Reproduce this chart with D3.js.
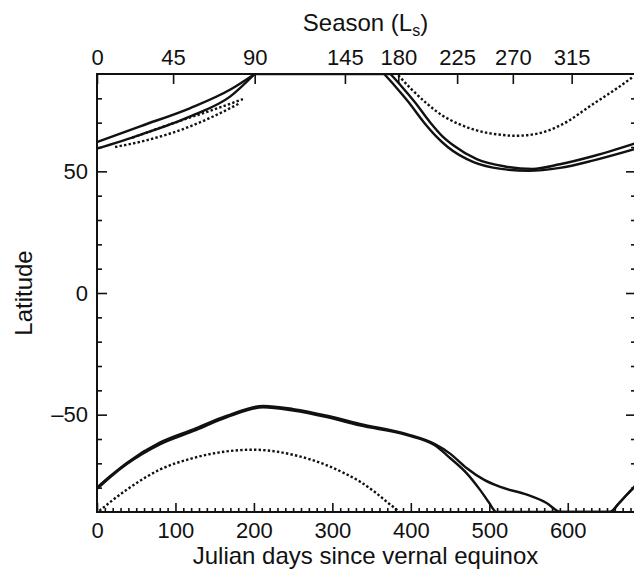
<!DOCTYPE html>
<html>
<head>
<meta charset="utf-8">
<script src="https://cdn.jsdelivr.net/npm/d3@7"></script>
<style>
  body { margin: 0; background: #fff; }
  text { font-family: "Liberation Sans", Arial, sans-serif; fill: #111; }
</style>
</head>
<body>
<script>
// Axis labels and ticks
const lsLabels = [0, 45, 90, 145, 180, 225, 270, 315];
const lsDays = [0, 97, 201, 316, 384, 459, 530, 605];
const dayTicks = [0, 100, 200, 300, 400, 500, 600];
const latTicks = [-50, 0, 50];

// Cap edge curves: [julian day, latitude]
// north solid lines: spring retreat, summer at the pole, autumn advance
const north1Rise = [[0, 62], [55, 68.5], [119, 76], [170, 83.6], [201, 90]];
const north2Rise = [[0, 59.3], [55, 65], [119, 72.6], [170, 80.8], [201, 90]];
const northPole = [[201, 90], [374, 90]];
const north1Fall = [[374, 90], [388, 85], [405, 78.5], [425, 70], [440, 64.5], [455, 60.5], [484, 55],
  [520, 52], [555, 51], [590, 52.9], [633, 56.3], [687, 61.6]];
const north2Fall = [[366, 90], [380, 85], [397, 78.5], [417, 70], [432, 64.5], [447, 60], [480, 53.8],
  [515, 51], [550, 50.2], [590, 51.4], [633, 54.5], [687, 59.3]];
const northDot1 = [[23, 60], [60, 62.5], [119, 68.5], [170, 76], [182, 78]];
const northDot2 = [[45, 63.8], [110, 71.2], [150, 75.5], [186, 79.7]];
const northDot3 = [[384, 89.5], [400, 84], [420, 78], [440, 73], [463, 69.2], [490, 66.3], [515, 65], [533, 64.6],
  [560, 65.4], [590, 68.8], [633, 77.8], [660, 83.5], [684, 89]];

const south1 = [[0, -80.5], [17, -75.6], [38, -70.3], [80, -62.2], [123, -56.7], [165, -51.1], [212, -47],
  [250, -48.3], [293, -51], [335, -54.4], [395, -58.4], [430, -62.5], [450, -67.8], [471, -74], [488, -80.8],
  [500, -86.3], [509, -90], [654, -90], [665, -86.5], [675, -83], [687, -79]];
const south2 = [[0, -80], [17, -75.2], [38, -69.8], [80, -61.5], [123, -56], [165, -50.5], [212, -46.4],
  [250, -47.7], [293, -50.4], [335, -53.8], [395, -58], [430, -62], [450, -66], [471, -71.9], [493, -76.7],
  [514, -79.7], [548, -82.9], [573, -86.3], [591, -90], [654, -90], [665, -86.5], [675, -83], [687, -79]];
const southDot = [[3, -89.5], [38, -80.8], [80, -72.6], [123, -67.8], [165, -65.1], [199, -64.4], [250, -66.5],
  [293, -70.8], [315, -74], [335, -77.5], [355, -82], [372, -86.5], [386, -90]];

const width = 634, height = 572;
const m = { left: 97, right: 636, top: 74, bottom: 512 };

const svg = d3.select("body").append("svg")
  .attr("width", width)
  .attr("height", height);

const x = d3.scaleLinear().domain([0, 687]).range([m.left, m.right]);
const y = d3.scaleLinear().domain([-90, 90]).range([m.bottom, m.top]);

svg.append("clipPath").attr("id", "plot")
  .append("rect")
  .attr("x", m.left).attr("y", m.top)
  .attr("width", m.right - m.left).attr("height", m.bottom - m.top);

// Curves
const line = d3.line()
  .x(d => x(d[0]))
  .y(d => y(d[1]))
  .curve(d3.curveMonotoneX);

const g = svg.append("g").attr("clip-path", "url(#plot)");

[north1Rise, north2Rise, northPole, north1Fall, north2Fall, south1, south2].forEach(s => {
  g.append("path").attr("d", line(s))
    .attr("fill", "none").attr("stroke", "#111").attr("stroke-width", 2.4);
});
[northDot1, northDot2, northDot3, southDot].forEach(s => {
  g.append("path").attr("d", line(s))
    .attr("fill", "none").attr("stroke", "#111").attr("stroke-width", 2.4)
    .attr("stroke-dasharray", "2.4,2.2");
});

// Axes, ticks pointing inward
function style(sel) {
  sel.select(".domain").remove();
  sel.attr("font-family", null).attr("font-size", 22);
  sel.selectAll("line").attr("stroke", "#111").attr("stroke-width", 1.6);
}

svg.append("g").attr("transform", `translate(0,${m.bottom})`)
  .call(d3.axisBottom(x).tickValues(d3.range(10, 690, 10).filter(d => d % 100)).tickSize(-4).tickFormat(""))
  .call(style);
svg.append("g").attr("transform", `translate(0,${m.bottom})`)
  .call(d3.axisBottom(x).tickValues(dayTicks).tickSize(-9).tickPadding(10))
  .call(style);

svg.append("g").attr("transform", `translate(0,${m.top})`)
  .call(d3.axisTop(x).tickValues(lsDays).tickSize(-10).tickPadding(9)
    .tickFormat((d, i) => lsLabels[i]))
  .call(style);

const minorLat = d3.range(-80, 90, 10).filter(d => d % 50);
svg.append("g").attr("transform", `translate(${m.left},0)`)
  .call(d3.axisLeft(y).tickValues(minorLat).tickSize(-5).tickFormat(""))
  .call(style);
svg.append("g").attr("transform", `translate(${m.left},0)`)
  .call(d3.axisLeft(y).tickValues(latTicks).tickSize(-10).tickPadding(9)
    .tickFormat(d => d < 0 ? "\u2013" + Math.abs(d) : d))
  .call(style);
svg.append("g").attr("transform", `translate(${m.right},0)`)
  .call(d3.axisRight(y).tickValues(minorLat).tickSize(-5).tickFormat(""))
  .call(style);
svg.append("g").attr("transform", `translate(${m.right},0)`)
  .call(d3.axisRight(y).tickValues(latTicks).tickSize(-10).tickFormat(""))
  .call(style);

// Frame
svg.append("path")
  .attr("d", `M${m.right},${m.top}H${m.left}V${m.bottom}H${m.right}V${m.top}`)
  .attr("fill", "none").attr("stroke", "#111").attr("stroke-width", 2);

// Titles
const title = svg.append("text")
  .attr("x", (m.left + width) / 2).attr("y", 31)
  .attr("text-anchor", "middle").attr("font-size", 24)
  .text("Season (L");
title.append("tspan").attr("font-size", 16).attr("dy", 5).text("s");
title.append("tspan").attr("dy", -5).text(")");

svg.append("text")
  .attr("x", (m.left + width) / 2).attr("y", 564)
  .attr("text-anchor", "middle").attr("font-size", 24)
  .text("Julian days since vernal equinox");

svg.append("text")
  .attr("transform", `translate(32,${(m.top + m.bottom) / 2}) rotate(-90)`)
  .attr("text-anchor", "middle").attr("font-size", 24)
  .text("Latitude");
</script>
</body>
</html>
